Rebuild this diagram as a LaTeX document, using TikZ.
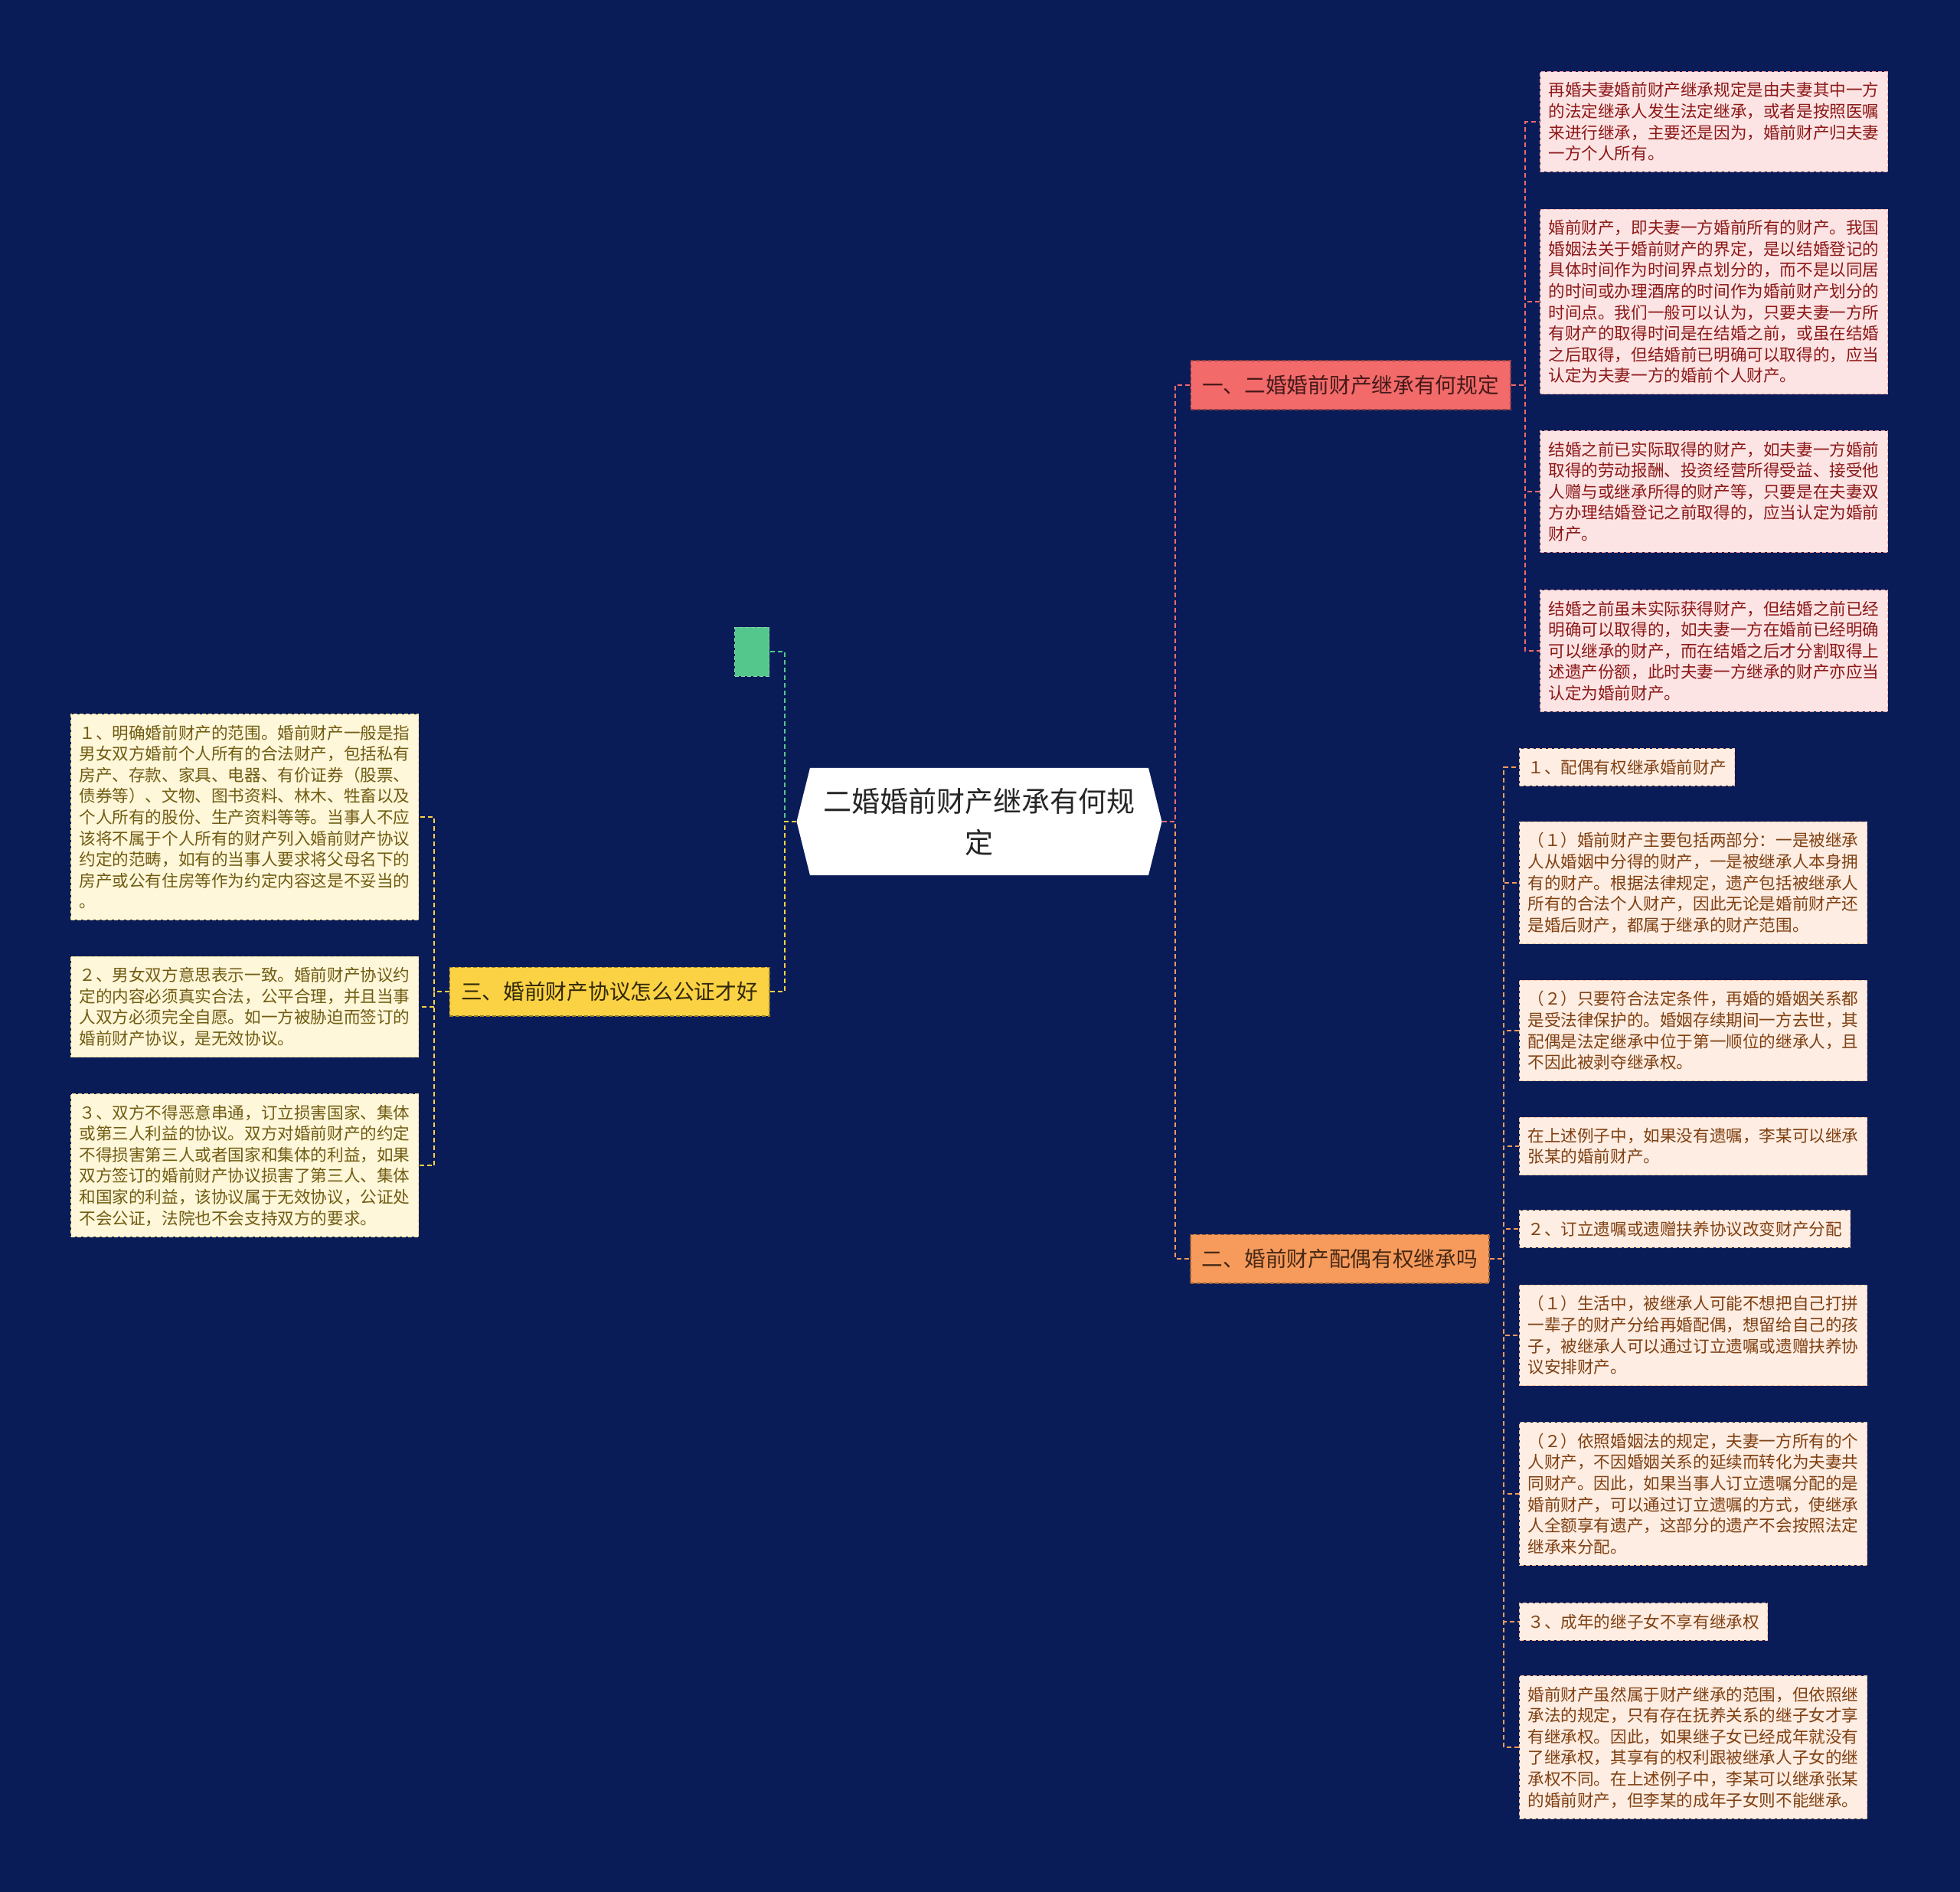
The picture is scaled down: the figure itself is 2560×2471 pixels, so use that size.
\documentclass[tikz,border=0pt]{standalone}
\usepackage{fontspec}
\setmainfont{Noto Sans CJK SC}
\usetikzlibrary{calc, shapes.symbols}
\definecolor{deepnavy}{RGB}{10, 28, 88}
\definecolor{coral}{RGB}{242, 106, 106}
\definecolor{apricot}{RGB}{247, 155, 92}
\definecolor{sun}{RGB}{250, 210, 68}
\definecolor{mint}{RGB}{84, 200, 140}
\definecolor{pinkbg}{RGB}{253, 228, 228}
\definecolor{peachbg}{RGB}{253, 237, 226}
\definecolor{creambg}{RGB}{255, 247, 218}
\definecolor{wine}{RGB}{140, 24, 24}
\definecolor{rust}{RGB}{128, 64, 18}
\definecolor{khaki}{RGB}{112, 92, 18}

\begin{document}
\begin{tikzpicture}[x=1pt, y=-1pt,
  every node/.style={inner sep=0pt},
  link/.style={line width=1.6pt, dash pattern=on 6pt off 4pt},
  topic/.style={font=\fontsize{27.7pt}{32pt}\selectfont, inner xsep=15pt,
    inner ysep=19pt, line width=1.2pt, dash pattern=on 5pt off 3pt},
  leaf/.style={font=\fontsize{21.6pt}{27.6pt}\selectfont, text width=432pt,
    align=left, inner xsep=11pt, inner ysep=14pt, line width=1pt,
    dash pattern=on 5pt off 3pt},
  redleaf/.style={leaf, fill=pinkbg, draw=coral!60!white, text=wine},
  orleaf/.style={leaf, fill=peachbg, draw=apricot!60!white, text=rust},
  yeleaf/.style={leaf, fill=creambg, draw=sun!60!white, text=khaki}]

  \fill[deepnavy] (0,0) rectangle (2560,2471);

  % ---------- Root ----------
  \node[signal, signal to=west and east, signal pointer angle=152, fill=white,
    text=black!85, font=\fontsize{37pt}{54pt}\selectfont, text width=420pt,
    align=center, inner xsep=11pt, inner ysep=26pt] (root) at (1279,1073)
    {二婚婚前财产继承有何规\\定};
  \node[fill=mint, draw=mint!70!white, line width=1pt, dash pattern=on 5pt off 3pt,
    minimum width=45pt, minimum height=64pt] (seed) at (982,851) {};

  % ---------- Topics ----------
  \node[topic, fill=coral, draw=coral!60!black, text={rgb,255:red,70;green,25;blue,25}]
    (b1) at (1764,503) {一、二婚婚前财产继承有何规定};
  \node[topic, fill=apricot, draw=apricot!60!black, text={rgb,255:red,70;green,40;blue,20}]
    (b2) at (1750,1644) {二、婚前财产配偶有权继承吗};
  \node[topic, fill=sun, draw=sun!60!black, text={rgb,255:red,50;green,40;blue,10}]
    (b3) at (796,1295) {三、婚前财产协议怎么公证才好};

  % ---------- Branch one ----------
  \node[redleaf, anchor=west] (c1) at (2011,159) {再婚夫妻婚前财产继承规定是由夫妻其中一方\\的法定继承人发生法定继承，或者是按照医嘱\\来进行继承，主要还是因为，婚前财产归夫妻\\一方个人所有。};
  \node[redleaf, anchor=west] (c2) at (2011,394) {婚前财产，即夫妻一方婚前所有的财产。我国\\婚姻法关于婚前财产的界定，是以结婚登记的\\具体时间作为时间界点划分的，而不是以同居\\的时间或办理酒席的时间作为婚前财产划分的\\时间点。我们一般可以认为，只要夫妻一方所\\有财产的取得时间是在结婚之前，或虽在结婚\\之后取得，但结婚前已明确可以取得的，应当\\认定为夫妻一方的婚前个人财产。};
  \node[redleaf, anchor=west] (c3) at (2011,642) {结婚之前已实际取得的财产，如夫妻一方婚前\\取得的劳动报酬、投资经营所得受益、接受他\\人赠与或继承所得的财产等，只要是在夫妻双\\方办理结婚登记之前取得的，应当认定为婚前\\财产。};
  \node[redleaf, anchor=west] (c4) at (2011,850) {结婚之前虽未实际获得财产，但结婚之前已经\\明确可以取得的，如夫妻一方在婚前已经明确\\可以继承的财产，而在结婚之后才分割取得上\\述遗产份额，此时夫妻一方继承的财产亦应当\\认定为婚前财产。};

  % ---------- Branch two ----------
  \node[orleaf, anchor=west, text width=] (o1) at (1984,1002) {１、配偶有权继承婚前财产};
  \node[orleaf, anchor=west] (o2) at (1984,1153) {（１）婚前财产主要包括两部分：一是被继承\\人从婚姻中分得的财产，一是被继承人本身拥\\有的财产。根据法律规定，遗产包括被继承人\\所有的合法个人财产，因此无论是婚前财产还\\是婚后财产，都属于继承的财产范围。};
  \node[orleaf, anchor=west] (o3) at (1984,1346) {（２）只要符合法定条件，再婚的婚姻关系都\\是受法律保护的。婚姻存续期间一方去世，其\\配偶是法定继承中位于第一顺位的继承人，且\\不因此被剥夺继承权。};
  \node[orleaf, anchor=west] (o4) at (1984,1497) {在上述例子中，如果没有遗嘱，李某可以继承\\张某的婚前财产。};
  \node[orleaf, anchor=west, text width=] (o5) at (1984,1605) {２、订立遗嘱或遗赠扶养协议改变财产分配};
  \node[orleaf, anchor=west] (o6) at (1984,1744) {（１）生活中，被继承人可能不想把自己打拼\\一辈子的财产分给再婚配偶，想留给自己的孩\\子，被继承人可以通过订立遗嘱或遗赠扶养协\\议安排财产。};
  \node[orleaf, anchor=west] (o7) at (1984,1951) {（２）依照婚姻法的规定，夫妻一方所有的个\\人财产，不因婚姻关系的延续而转化为夫妻共\\同财产。因此，如果当事人订立遗嘱分配的是\\婚前财产，可以通过订立遗嘱的方式，使继承\\人全额享有遗产，这部分的遗产不会按照法定\\继承来分配。};
  \node[orleaf, anchor=west, text width=] (o8) at (1984,2118) {３、成年的继子女不享有继承权};
  \node[orleaf, anchor=west] (o9) at (1984,2282) {婚前财产虽然属于财产继承的范围，但依照继\\承法的规定，只有存在抚养关系的继子女才享\\有继承权。因此，如果继子女已经成年就没有\\了继承权，其享有的权利跟被继承人子女的继\\承权不同。在上述例子中，李某可以继承张某\\的婚前财产，但李某的成年子女则不能继承。};

  % ---------- Branch three ----------
  \node[yeleaf, anchor=east] (y1) at (547,1067) {１、明确婚前财产的范围。婚前财产一般是指\\男女双方婚前个人所有的合法财产，包括私有\\房产、存款、家具、电器、有价证券（股票、\\债券等）、文物、图书资料、林木、牲畜以及\\个人所有的股份、生产资料等等。当事人不应\\该将不属于个人所有的财产列入婚前财产协议\\约定的范畴，如有的当事人要求将父母名下的\\房产或公有住房等作为约定内容这是不妥当的\\。};
  \node[yeleaf, anchor=east] (y2) at (547,1315) {２、男女双方意思表示一致。婚前财产协议约\\定的内容必须真实合法，公平合理，并且当事\\人双方必须完全自愿。如一方被胁迫而签订的\\婚前财产协议，是无效协议。};
  \node[yeleaf, anchor=east] (y3) at (547,1522) {３、双方不得恶意串通，订立损害国家、集体\\或第三人利益的协议。双方对婚前财产的约定\\不得损害第三人或者国家和集体的利益，如果\\双方签订的婚前财产协议损害了第三人、集体\\和国家的利益，该协议属于无效协议，公证处\\不会公证，法院也不会支持双方的要求。};

  % ---------- Links ----------
  \coordinate (jl) at (1025,1073);
  \coordinate (jr) at (1535,1073);
  \coordinate (jred) at (1992,503);
  \coordinate (jor) at (1964,1644);
  \coordinate (jye) at (567,1295);
  \draw[link, mint] (root.west) -- (jl) |- (seed.east);
  \draw[link, sun] (root.west) -- (jl) |- (b3.east);
  \draw[link, apricot] (root.east) -- (jr) |- (b2.west);
  \draw[link, coral] (root.east) -- (jr) |- (b1.west);
  \foreach \n in {c1,c2,c3,c4}
    \draw[link, coral] (b1.east) -- (jred) |- (\n.west);
  \foreach \n in {o1,o2,o3,o4,o5,o6,o7,o8,o9}
    \draw[link, apricot] (b2.east) -- (jor) |- (\n.west);
  \foreach \n in {y1,y2,y3}
    \draw[link, sun] (b3.west) -- (jye) |- (\n.east);
\end{tikzpicture}
\end{document}
